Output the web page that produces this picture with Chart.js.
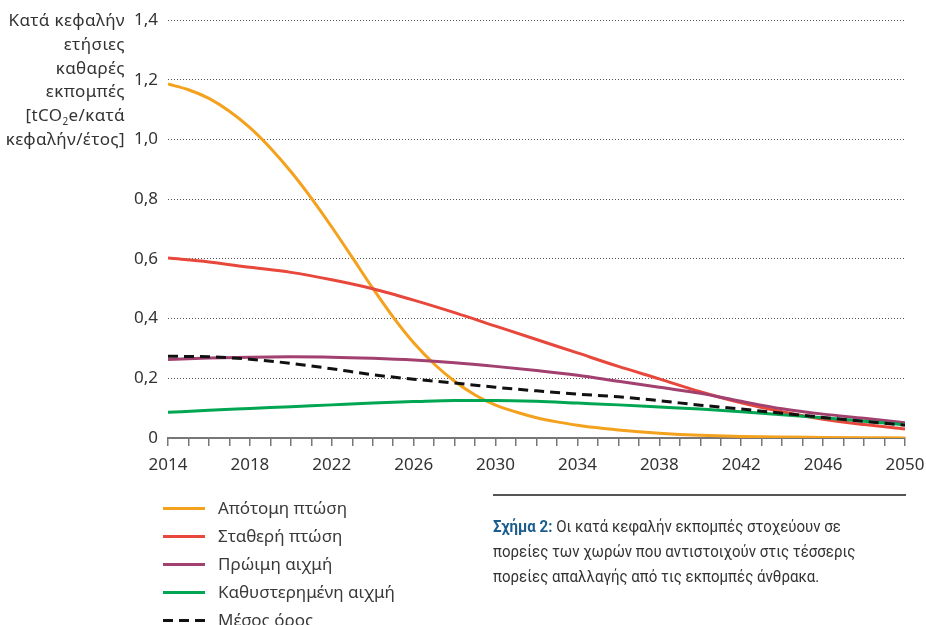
<!DOCTYPE html>
<html lang="el">
<head>
  <meta charset="UTF-8" />
  <title>Κατά κεφαλήν εκπομπές</title>
  <script src="https://cdn.jsdelivr.net/npm/chart.js"></script>
  <style>
    body {
      margin: 0;
      background: #fff;
      font-family: "Noto Sans", sans-serif;
      color: #333;
    }
    #wrap {
      position: relative;
      width: 926px;
      height: 625px;
      overflow: hidden;
    }
    #chart {
      position: absolute;
      left: 0;
      top: 0;
    }
    .ytitle {
      position: absolute;
      left: 0;
      top: 8px;
      width: 125px;
      text-align: right;
      font-size: 17px;
      letter-spacing: 0.4px;
      line-height: 23.8px;
      white-space: nowrap;
    }
    .ytitle sub {
      font-size: 10px;
      line-height: 0;
    }
    #legend {
      position: absolute;
      left: 163px;
      top: 494px;
      font-size: 17px;
      line-height: 28px;
      color: #3a3a3a;
    }
    #legend .row {
      display: flex;
      align-items: center;
    }
    #legend .swatch {
      width: 42px;
      height: 3px;
      margin-right: 13px;
    }
    .rule {
      position: absolute;
      left: 493px;
      top: 494px;
      width: 413px;
      height: 2px;
      background: #555;
    }
    .caption {
      position: absolute;
      left: 493px;
      top: 514px;
      font-family: Roboto, sans-serif;
      font-size: 17px;
      line-height: 25px;
      color: #333;
      transform-origin: 0 0;
      transform: scaleX(0.885);
      white-space: nowrap;
    }
    .caption b {
      color: #1b5d8c;
    }
  </style>
</head>
<body>
  <div id="wrap">
    <canvas id="chart" width="926" height="625"></canvas>
    <div class="ytitle">Κατά κεφαλήν<br />ετήσιες<br />καθαρές<br />εκπομπές<br />[tCO<sub>2</sub>e/κατά<br />κεφαλήν/έτος]</div>
    <div id="legend"></div>
    <div class="rule"></div>
    <div class="caption"><b>Σχήμα 2:</b> Οι κατά κεφαλήν εκπομπές στοχεύουν σε<br />πορείες των χωρών που αντιστοιχούν στις τέσσερις<br />πορείες απαλλαγής από τις εκπομπές άνθρακα.</div>
  </div>

  <script>
    // έτη
    const yearsAbrupt = [2014, 2015, 2016, 2017, 2018, 2019, 2020, 2021, 2022, 2023, 2024, 2025, 2026, 2027, 2028, 2029, 2030, 2031, 2032, 2033, 2034, 2035, 2036, 2037, 2038, 2039, 2040, 2042, 2044, 2046, 2048, 2050];
    const years = [2014, 2016, 2018, 2020, 2022, 2024, 2026, 2028, 2030, 2032, 2034, 2036, 2038, 2040, 2042, 2044, 2046, 2048, 2050];

    // τιμές (tCO2e/κάτοικο/έτος)
    const abrupt = [1.186, 1.167, 1.138, 1.095, 1.04, 0.972, 0.893, 0.804, 0.707, 0.605, 0.502, 0.405, 0.319, 0.248, 0.19, 0.144, 0.11, 0.087, 0.068, 0.054, 0.043, 0.034, 0.027, 0.021, 0.016, 0.012, 0.009, 0.005, 0.003, 0.002, 0.001, 0.0];
    const steady = [0.603, 0.59, 0.572, 0.555, 0.53, 0.5, 0.462, 0.42, 0.375, 0.33, 0.285, 0.24, 0.198, 0.155, 0.118, 0.088, 0.063, 0.045, 0.03];
    const earlyPeak = [0.263, 0.268, 0.271, 0.272, 0.271, 0.267, 0.261, 0.252, 0.24, 0.226, 0.21, 0.19, 0.17, 0.15, 0.123, 0.098, 0.08, 0.066, 0.051];
    const latePeak = [0.086, 0.093, 0.099, 0.105, 0.111, 0.117, 0.122, 0.126, 0.126, 0.123, 0.117, 0.111, 0.104, 0.097, 0.088, 0.078, 0.068, 0.056, 0.044];
    const average = [0.274, 0.272, 0.264, 0.25, 0.232, 0.212, 0.197, 0.184, 0.17, 0.158, 0.147, 0.138, 0.125, 0.11, 0.097, 0.083, 0.069, 0.056, 0.043];

    const seriesNames = ["Απότομη πτώση", "Σταθερή πτώση", "Πρώιμη αιχμή", "Καθυστερημένη αιχμή", "Μέσος όρος"];
    const seriesColors = ["#f4a11d", "#e8473b", "#a2406f", "#00a651", "#111111"];

    const yTicks = [0, 0.2, 0.4, 0.6, 0.8, 1.0, 1.2, 1.4];
    const xLabelYears = [2014, 2018, 2022, 2026, 2030, 2034, 2038, 2042, 2046, 2050];

    function pts(xs, ys) {
      return xs.map((x, i) => ({ x: x, y: ys[i] }));
    }

    const seriesData = [
      pts(yearsAbrupt, abrupt),
      pts(years, steady),
      pts(years, earlyPeak),
      pts(years, latePeak),
      pts(years, average),
    ];

    // ο μέσος όρος σχεδιάζεται πάνω από τα υπόλοιπα
    const datasets = seriesNames.map((name, i) => ({
      label: name,
      data: seriesData[i],
      borderColor: seriesColors[i],
      backgroundColor: seriesColors[i],
      borderWidth: 3,
      borderDash: i === 4 ? [10, 6] : [],
      pointRadius: 0,
      fill: false,
      cubicInterpolationMode: "monotone",
      order: i === 4 ? 0 : 5 - i,
    }));

    const chart = new Chart(document.getElementById("chart"), {
      type: "line",
      data: { datasets: datasets },
      options: {
        responsive: false,
        animation: false,
        layout: { padding: { top: 20, right: 21, bottom: 147, left: 0 } },
        plugins: {
          legend: { display: false },
          tooltip: { enabled: false },
        },
        scales: {
          x: {
            type: "linear",
            min: 2014,
            max: 2050,
            afterFit: (s) => {
              s.height = 40;
              s.paddingRight = 0;
              s.paddingLeft = 0;
            },
            ticks: {
              stepSize: 1,
              autoSkip: false,
              maxRotation: 0,
              padding: 9,
              color: "#333",
              font: { family: "Noto Sans", size: 17 },
              callback: (v) => (xLabelYears.includes(v) ? String(v) : ""),
            },
            grid: {
              drawOnChartArea: false,
              drawTicks: true,
              tickLength: 8,
              color: "#777",
              lineWidth: 1.5,
            },
            border: { display: true, color: "#777", width: 2 },
          },
          y: {
            min: 0,
            max: 1.4,
            afterFit: (s) => { s.width = 168; },
            afterBuildTicks: (s) => { s.ticks = yTicks.map((v) => ({ value: v })); },
            ticks: {
              padding: 10,
              color: "#333",
              font: { family: "Noto Sans", size: 17 },
              callback: (v) => (v === 0 ? "0" : v.toFixed(1).replace(".", ",")),
            },
            grid: {
              drawTicks: false,
              color: (c) => (c.tick && c.tick.value === 0 ? "rgba(0,0,0,0)" : "#555"),
              lineWidth: 1,
            },
            border: { display: false, dash: [1, 2] },
          },
        },
      },
    });

    // υπόμνημα
    const legend = document.getElementById("legend");
    seriesNames.forEach((name, i) => {
      const row = document.createElement("div");
      row.className = "row";
      const sw = document.createElement("span");
      sw.className = "swatch";
      if (i === 4) {
        sw.style.background = "repeating-linear-gradient(90deg, " + seriesColors[i] + " 0 10px, transparent 10px 16px)";
      } else {
        sw.style.background = seriesColors[i];
      }
      const tx = document.createElement("span");
      tx.textContent = name;
      row.appendChild(sw);
      row.appendChild(tx);
      legend.appendChild(row);
    });
  </script>
</body>
</html>
